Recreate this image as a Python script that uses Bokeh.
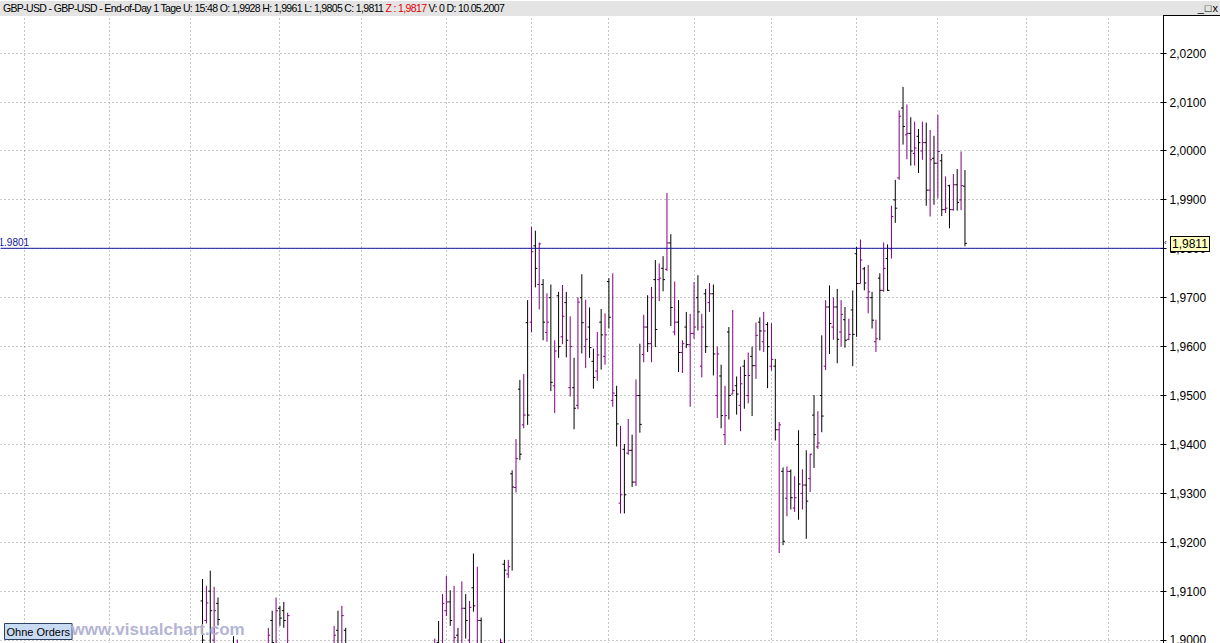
from bokeh.plotting import figure
from bokeh.models import (ColumnDataSource, LinearAxis, FixedTicker, Range1d, Span,
                          Label, Div, CustomJSTickFormatter)
from bokeh.layouts import column
from bokeh.embed import file_html
from bokeh.resources import INLINE

# ---------------- data (daily GBP-USD bars, oldest first) ----------------
opens = [
    1.9080, 1.9040, 1.9100, 1.9000, 1.9075, 1.8980, 1.8950, 1.8975, 1.8990, 1.8950,
    1.8980, 1.8920, 1.8950, 1.8900, 1.8935, 1.8910, 1.8960, 1.8940, 1.9040, 1.8990,
    1.9065, 1.9060, 1.8980, 1.8980, 1.8940, 1.8970, 1.8920, 1.8940, 1.8880, 1.8910,
    1.8875, 1.8930, 1.8910, 1.8960, 1.8945, 1.9020, 1.8985, 1.9020, 1.8970, 1.8975,
    1.8920, 1.8945, 1.8890, 1.8915, 1.8850, 1.8870, 1.8800, 1.8830, 1.8760, 1.8790,
    1.8750, 1.8810, 1.8790, 1.8850, 1.8820, 1.8880, 1.8860, 1.8920, 1.8900, 1.8950,
    1.8930, 1.8995, 1.8960, 1.9060, 1.9078, 1.8990, 1.9010, 1.8990, 1.9065, 1.9000,
    1.9107, 1.8990, 1.9040, 1.8950, 1.8975, 1.8920, 1.8960, 1.8940, 1.9155, 1.9135,
    1.9340, 1.9312, 1.9513, 1.9440, 1.9649, 1.9650, 1.9806, 1.9727, 1.9727, 1.9629,
    1.9700, 1.9520, 1.9704, 1.9620, 1.9690, 1.9516, 1.9516, 1.9480, 1.9700, 1.9600,
    1.9640, 1.9570, 1.9550, 1.9650, 1.9580, 1.9733, 1.9490, 1.9500, 1.9280, 1.9390,
    1.9382, 1.9388, 1.9323, 1.9500, 1.9584, 1.9640, 1.9606, 1.9737, 1.9737, 1.9760,
    1.9758, 1.9812, 1.9630, 1.9650, 1.9588, 1.9640, 1.9604, 1.9627, 1.9700, 1.9560,
    1.9708, 1.9690, 1.9708, 1.9500, 1.9540, 1.9420, 1.9630, 1.9503, 1.9520, 1.9480,
    1.9560, 1.9500, 1.9580, 1.9561, 1.9650, 1.9610, 1.9645, 1.9560, 1.9560, 1.9430,
    1.9345, 1.9290, 1.9345, 1.9270, 1.9400, 1.9300, 1.9317, 1.9330, 1.9460, 1.9395,
    1.9500, 1.9560, 1.9681, 1.9640, 1.9681, 1.9630, 1.9655, 1.9615, 1.9675, 1.9790,
    1.9729, 1.9759, 1.9700, 1.9700, 1.9610, 1.9740, 1.9715, 1.9780, 1.9800, 1.9900,
    1.9945, 2.0088, 2.0033, 2.0036, 1.9995, 2.0030, 2.0000, 2.0017, 1.9920, 1.9985,
    1.9975, 1.9980, 1.9880, 1.9929, 1.9880, 1.9931, 1.9900, 1.9928,
]
highs = [
    1.9125, 1.9111, 1.9142, 1.9109, 1.9087, 1.8985, 1.8980, 1.8985, 1.9008, 1.9001,
    1.8985, 1.8970, 1.8965, 1.8950, 1.8960, 1.8975, 1.8980, 1.9025, 1.9060, 1.9087,
    1.9070, 1.9078, 1.9056, 1.8985, 1.8980, 1.8975, 1.8960, 1.8950, 1.8930, 1.8935,
    1.8945, 1.8960, 1.8975, 1.8980, 1.9029, 1.9060, 1.9070, 1.9025, 1.8980, 1.8980,
    1.8960, 1.8955, 1.8930, 1.8925, 1.8890, 1.8880, 1.8850, 1.8840, 1.8810, 1.8820,
    1.8830, 1.8850, 1.8870, 1.8880, 1.8900, 1.8920, 1.8940, 1.8960, 1.8970, 1.8985,
    1.9003, 1.9039, 1.9094, 1.9131, 1.9102, 1.9111, 1.9025, 1.9120, 1.9094, 1.9080,
    1.9177, 1.9150, 1.9046, 1.8985, 1.8980, 1.8970, 1.8980, 1.9003, 1.9164, 1.9164,
    1.9347, 1.9411, 1.9532, 1.9544, 1.9695, 1.9845, 1.9837, 1.9813, 1.9738, 1.9709,
    1.9727, 1.9613, 1.9712, 1.9726, 1.9712, 1.9662, 1.9577, 1.9701, 1.9748, 1.9696,
    1.9680, 1.9596, 1.9630, 1.9677, 1.9668, 1.9740, 1.9750, 1.9520, 1.9438, 1.9401,
    1.9452, 1.9420, 1.9533, 1.9606, 1.9665, 1.9705, 1.9722, 1.9777, 1.9770, 1.9785,
    1.9914, 1.9830, 1.9733, 1.9695, 1.9613, 1.9671, 1.9667, 1.9732, 1.9746, 1.9667,
    1.9718, 1.9730, 1.9727, 1.9600, 1.9563, 1.9520, 1.9640, 1.9675, 1.9539, 1.9559,
    1.9573, 1.9588, 1.9600, 1.9649, 1.9660, 1.9671, 1.9650, 1.9648, 1.9575, 1.9446,
    1.9353, 1.9355, 1.9349, 1.9335, 1.9429, 1.9349, 1.9388, 1.9381, 1.9501, 1.9468,
    1.9623, 1.9695, 1.9725, 1.9701, 1.9718, 1.9695, 1.9681, 1.9657, 1.9715, 1.9804,
    1.9819, 1.9763, 1.9767, 1.9712, 1.9655, 1.9750, 1.9813, 1.9809, 1.9888, 1.9941,
    2.0083, 2.0131, 2.0095, 2.0069, 2.0060, 2.0045, 2.0060, 2.0058, 2.0043, 2.0031,
    2.0074, 1.9994, 1.9948, 1.9931, 1.9953, 1.9963, 1.9999, 1.9961,
]
lows = [
    1.8975, 1.9034, 1.8985, 1.8980, 1.9030, 1.8920, 1.8910, 1.8930, 1.8920, 1.8935,
    1.8900, 1.8890, 1.8880, 1.8870, 1.8890, 1.8895, 1.8920, 1.8930, 1.8975, 1.8980,
    1.9029, 1.9025, 1.8960, 1.8920, 1.8910, 1.8900, 1.8880, 1.8860, 1.8850, 1.8860,
    1.8860, 1.8890, 1.8900, 1.8920, 1.8935, 1.8970, 1.8975, 1.8950, 1.8930, 1.8900,
    1.8890, 1.8870, 1.8850, 1.8830, 1.8820, 1.8780, 1.8770, 1.8740, 1.8720, 1.8730,
    1.8740, 1.8770, 1.8780, 1.8800, 1.8810, 1.8840, 1.8850, 1.8880, 1.8890, 1.8910,
    1.8920, 1.8940, 1.8950, 1.9049, 1.9029, 1.8980, 1.8960, 1.8970, 1.9003, 1.8980,
    1.9058, 1.8980, 1.8960, 1.8920, 1.8900, 1.8900, 1.8910, 1.8930, 1.8990, 1.9127,
    1.9142, 1.9302, 1.9368, 1.9433, 1.9440, 1.9629, 1.9721, 1.9676, 1.9613, 1.9610,
    1.9509, 1.9464, 1.9577, 1.9605, 1.9578, 1.9498, 1.9431, 1.9472, 1.9586, 1.9556,
    1.9577, 1.9514, 1.9530, 1.9553, 1.9563, 1.9637, 1.9477, 1.9396, 1.9259, 1.9259,
    1.9379, 1.9313, 1.9315, 1.9424, 1.9568, 1.9589, 1.9568, 1.9599, 1.9693, 1.9713,
    1.9755, 1.9642, 1.9623, 1.9548, 1.9546, 1.9597, 1.9477, 1.9616, 1.9633, 1.9537,
    1.9587, 1.9671, 1.9541, 1.9454, 1.9433, 1.9399, 1.9451, 1.9503, 1.9461, 1.9427,
    1.9473, 1.9484, 1.9458, 1.9534, 1.9592, 1.9589, 1.9515, 1.9551, 1.9408, 1.9178,
    1.9194, 1.9253, 1.9267, 1.9262, 1.9246, 1.9267, 1.9207, 1.9303, 1.9352, 1.9391,
    1.9425, 1.9552, 1.9585, 1.9614, 1.9566, 1.9600, 1.9598, 1.9613, 1.9560, 1.9620,
    1.9729, 1.9715, 1.9668, 1.9637, 1.9589, 1.9613, 1.9712, 1.9714, 1.9780, 1.9853,
    1.9941, 2.0013, 1.9983, 1.9970, 1.9970, 1.9955, 1.9982, 1.9888, 1.9866, 1.9890,
    1.9903, 1.9867, 1.9873, 1.9842, 1.9878, 1.9878, 1.9879, 1.9805,
]
closes = [
    1.9000, 1.9076, 1.9060, 1.9060, 1.9042, 1.8950, 1.8975, 1.8945, 1.8950, 1.8990,
    1.8920, 1.8950, 1.8900, 1.8930, 1.8910, 1.8960, 1.8940, 1.9010, 1.8995, 1.9060,
    1.9045, 1.9040, 1.9050, 1.8940, 1.8970, 1.8920, 1.8940, 1.8880, 1.8910, 1.8875,
    1.8930, 1.8910, 1.8960, 1.8945, 1.9010, 1.8990, 1.9050, 1.8970, 1.8975, 1.8920,
    1.8945, 1.8890, 1.8915, 1.8850, 1.8870, 1.8800, 1.8830, 1.8760, 1.8790, 1.8750,
    1.8810, 1.8790, 1.8850, 1.8820, 1.8880, 1.8860, 1.8920, 1.8900, 1.8950, 1.8930,
    1.8990, 1.8960, 1.9075, 1.9078, 1.9040, 1.9005, 1.8990, 1.9065, 1.9040, 1.9067,
    1.9070, 1.9040, 1.8980, 1.8975, 1.8920, 1.8950, 1.8940, 1.8995, 1.9143, 1.9150,
    1.9313, 1.9371, 1.9380, 1.9460, 1.9460, 1.9794, 1.9760, 1.9810, 1.9650, 1.9650,
    1.9527, 1.9591, 1.9600, 1.9662, 1.9613, 1.9600, 1.9474, 1.9691, 1.9649, 1.9615,
    1.9598, 1.9537, 1.9583, 1.9624, 1.9624, 1.9660, 1.9505, 1.9442, 1.9297, 1.9297,
    1.9388, 1.9323, 1.9500, 1.9441, 1.9640, 1.9606, 1.9700, 1.9635, 1.9740, 1.9737,
    1.9812, 1.9680, 1.9650, 1.9588, 1.9606, 1.9604, 1.9627, 1.9640, 1.9671, 1.9640,
    1.9600, 1.9708, 1.9585, 1.9585, 1.9459, 1.9459, 1.9500, 1.9510, 1.9503, 1.9524,
    1.9541, 1.9541, 1.9561, 1.9623, 1.9632, 1.9632, 1.9600, 1.9574, 1.9430, 1.9440,
    1.9202, 1.9345, 1.9291, 1.9291, 1.9319, 1.9317, 1.9284, 1.9380, 1.9420, 1.9403,
    1.9458, 1.9681, 1.9647, 1.9681, 1.9615, 1.9666, 1.9613, 1.9625, 1.9625, 1.9729,
    1.9777, 1.9730, 1.9712, 1.9654, 1.9616, 1.9715, 1.9760, 1.9715, 1.9866, 1.9883,
    2.0071, 2.0050, 2.0036, 2.0000, 2.0006, 2.0017, 2.0017, 1.9920, 1.9982, 1.9975,
    1.9999, 1.9880, 1.9883, 1.9880, 1.9931, 1.9895, 1.9929, 1.9811,
]
y_ticks = [1.90, 1.91, 1.92, 1.93, 1.94, 1.95, 1.96, 1.97, 1.98, 1.99, 2.00, 2.01, 2.02]
month_ticks = [-46, -24, -3, 20, 41, 63, 85, 105, 127, 147, 169, 190, 213, 234]
ref_level = 1.9801
last_z = 1.9817
hdr_time = "15:48"
hdr_date = "10.05.2007"
symbol = "GBP-USD"

# ---------------- layout constants ----------------
W = 1220
HDR_H = 15
FIG_H = 628
RIGHT_W = 57
FRAME_W = W - RIGHT_W
X0, X1 = -52.2, 248.3
Y0, Y1 = 1.8993, 2.0277
PURPLE = "#800080"
BLUE = "#1414a0"
FONT = "'Liberation Sans',Arial,sans-serif"


def fmt(v):
    return f"{v:.4f}".replace(".", ",")


n = len(closes)
idx = list(range(n))
colors = [PURPLE if c > o else "#000000" for o, c in zip(opens, closes)]
src = ColumnDataSource(dict(
    x=idx, xl=[i - 0.5 for i in idx], xr=[i + 0.5 for i in idx],
    o=opens, h=highs, l=lows, c=closes, col=colors))

p = figure(width=W, height=FIG_H, x_range=Range1d(X0, X1), y_range=Range1d(Y0, Y1),
           x_axis_location=None, y_axis_location=None,
           output_backend="svg", toolbar_location=None,
           min_border_left=0, min_border_right=RIGHT_W, min_border_top=0, min_border_bottom=0,
           background_fill_color="white", border_fill_color="white",
           outline_line_color=None, margin=(0, 0, 0, 0))

p.xgrid.ticker = FixedTicker(ticks=month_ticks)
p.ygrid.ticker = FixedTicker(ticks=y_ticks)
for g in (p.xgrid, p.ygrid):
    g.grid_line_color = "#8c8c8c"
    g.grid_line_dash = "1 3"
    g.grid_line_width = 1

ax = LinearAxis(ticker=FixedTicker(ticks=y_ticks),
                formatter=CustomJSTickFormatter(code="return tick.toFixed(4).replace('.', ',');"),
                axis_line_color="black", axis_line_width=1,
                major_tick_in=3, major_tick_out=3, major_tick_line_color="black",
                minor_tick_line_color=None,
                major_label_text_font="Liberation Sans", major_label_text_font_size="12px",
                major_label_text_color="black", major_label_standoff=3)
p.add_layout(ax, "right")

p.add_layout(Span(location=ref_level, dimension="width", line_color=BLUE, line_width=1))

p.segment(x0="x", y0="l", x1="x", y1="h", line_color="col", line_width=1, source=src)
p.segment(x0="xl", y0="o", x1="x", y1="o", line_color="col", line_width=1, source=src)
p.segment(x0="x", y0="c", x1="xr", y1="c", line_color="col", line_width=1, source=src)

p.add_layout(Label(x=X0, y=ref_level, text=f"{ref_level:.4f}", x_offset=-2, y_offset=2,
                   text_font="Liberation Sans", text_font_size="10px", text_color=BLUE))

p.add_layout(Label(x=X0, y=Y0, text="Ohne Orders", x_offset=4, y_offset=4,
                   text_font="Liberation Sans", text_font_size="11px", text_color="black",
                   background_fill_color="#c9dbf2", border_line_color="#304060",
                   padding=2))
p.add_layout(Label(x=X0, y=Y0, text="www.visualchart.com", x_offset=71, y_offset=5,
                   text_font="Liberation Sans", text_font_size="17px", text_font_style="bold",
                   text_color="#b4b4d4"))

# last-price marker on the price scale (screen position derived from the y range)
last_y = HDR_H + (Y1 - closes[-1]) / (Y1 - Y0) * FIG_H
marker_html = (
    f"<div style=\"position:absolute;left:{FRAME_W + 1}px;top:{last_y - 6:.1f}px;z-index:20;"
    f"font-family:{FONT};font-size:8px;line-height:10px;color:#000;\">&lsaquo;</div>"
    f"<div style=\"position:absolute;left:{FRAME_W + 7}px;top:{last_y - 8:.1f}px;z-index:20;"
    f"background:#ffffc0;border:1px solid #000;font-family:{FONT};font-size:12px;"
    f"line-height:14px;padding:0 1px;color:#000;white-space:nowrap;\">{fmt(closes[-1])}</div>"
    f"<div style=\"position:absolute;left:{FRAME_W}px;top:{HDR_H - 1}px;width:{RIGHT_W}px;"
    f"height:1px;background:#000;z-index:20;\"></div>"
)

hdr_text = (f"{symbol} - {symbol} - End-of-Day 1 Tage U: {hdr_time} "
            f"O: {fmt(opens[-1])} H: {fmt(highs[-1])} L: {fmt(lows[-1])} C: {fmt(closes[-1])} "
            f"<span style='color:#e00000'>Z : {fmt(last_z)}</span> V: 0 D: {hdr_date}")
hdr = Div(text=(f"<div style=\"position:relative;width:{W}px;height:{HDR_H}px;\">"
                f"<div style=\"display:flex;justify-content:space-between;align-items:center;"
                f"width:{W}px;height:{HDR_H}px;background:#e4e4e4;color:#000;"
                f"font-family:{FONT};font-size:10.5px;letter-spacing:-0.65px;"
                f"white-space:nowrap;padding-left:3px;box-sizing:border-box;overflow:hidden;\">"
                f"<span>{hdr_text}</span>"
                f"<span style='font-size:11px;letter-spacing:1px;padding-right:1px'>_&#9633;x</span></div>"
                f"{marker_html}</div>"),
          width=W, height=HDR_H, margin=(0, 0, 0, 0),
          styles={"overflow": "visible", "z-index": "20"})

layout = column(hdr, p, spacing=0, margin=(0, 0, 0, 0))
open("out.html", "w").write(file_html(layout, INLINE))
